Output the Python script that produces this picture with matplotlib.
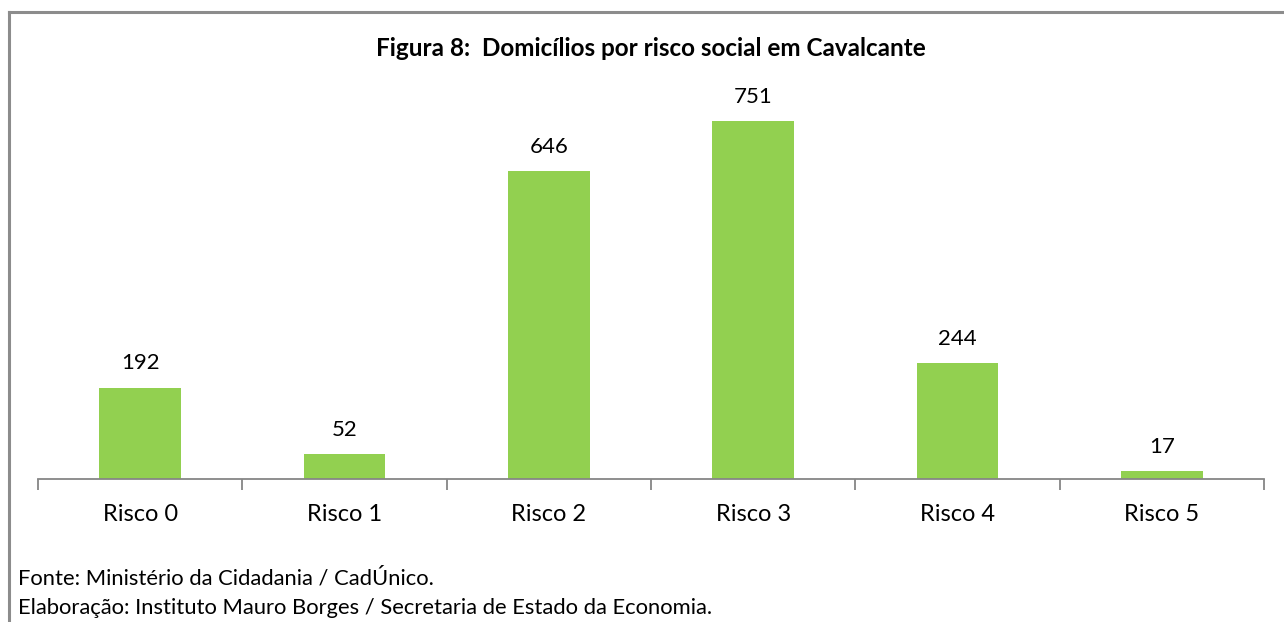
import matplotlib.pyplot as plt
import numpy as np

categorias = ["Risco 0", "Risco 1", "Risco 2", "Risco 3", "Risco 4", "Risco 5"]
domicilios = [192, 52, 646, 751, 244, 17]

titulo = "Figura 8:  Domicílios por risco social em Cavalcante"
fonte = "Fonte: Ministério da Cidadania / CadÚnico."
elaboracao = "Elaboração: Instituto Mauro Borges / Secretaria de Estado da Economia."

plt.rcParams["font.family"] = ["Lato", "DejaVu Sans"]

W, H = 1284, 622
fig = plt.figure(figsize=(W / 100, H / 100), dpi=100)

# moldura cinza (topo e esquerda)
fig.add_artist(plt.Line2D([8.5 / W, 8.5 / W], [0, 1 - 11.5 / H], color="#8c8c8c", lw=2.2))
fig.add_artist(plt.Line2D([8.5 / W, 1], [1 - 11.5 / H, 1 - 11.5 / H], color="#8c8c8c", lw=2.2))

ax = fig.add_axes([38 / W, 143 / H, (1264 - 38) / W, 381 / H])
x = np.arange(len(categorias))
ax.bar(x, domicilios, width=0.4, color="#92D050")
for xi, v in zip(x, domicilios):
    ax.text(xi, v + 30, str(v), ha="center", va="bottom", fontsize=16)

ax.set_xlim(-0.5, len(categorias) - 0.5)
ax.set_ylim(0, 800)
ax.set_yticks([])
for s in ["top", "right", "left"]:
    ax.spines[s].set_visible(False)
ax.spines["bottom"].set_color("#868686")
ax.spines["bottom"].set_linewidth(1.3)

ax.set_xticks(np.arange(-0.5, len(categorias), 1.0))
ax.set_xticklabels([])
ax.tick_params(axis="x", length=8, width=1.3, color="#868686")
ax.set_xticks(x, minor=True)
ax.set_xticklabels(categorias, minor=True, fontsize=17)
ax.tick_params(axis="x", which="minor", length=0, pad=18)

fig.text(651 / W, 1 - 48 / H, titulo, ha="center", va="center", fontsize=17.5, fontweight="bold")
fig.text(18 / W, 1 - 578 / H, fonte, ha="left", va="center", fontsize=15.8)
fig.text(18 / W, 1 - 608 / H, elaboracao, ha="left", va="center", fontsize=15.8)

fig.savefig("out.png", dpi=100)
